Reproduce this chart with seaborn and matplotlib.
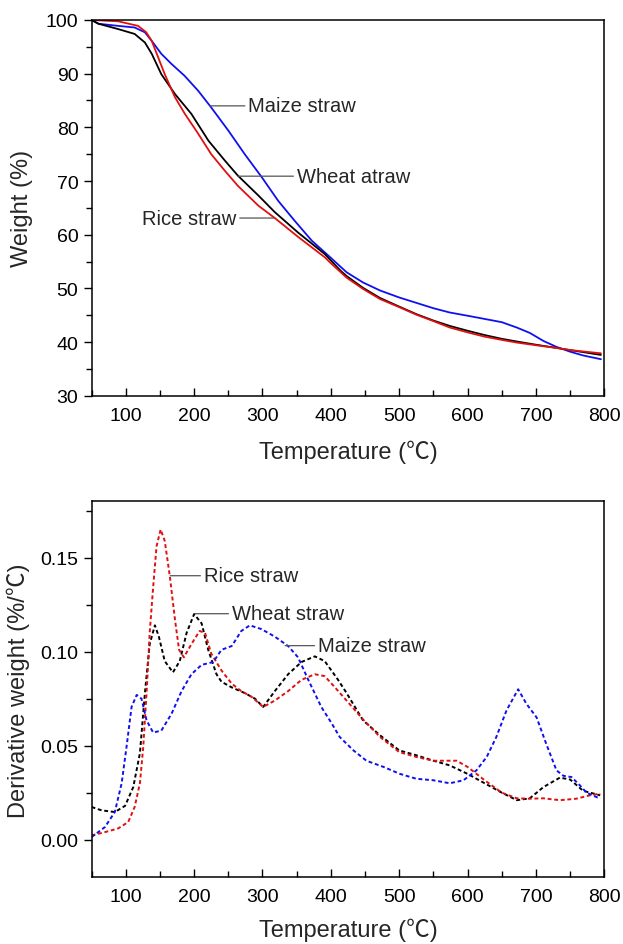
import matplotlib
matplotlib.use('Agg')
import matplotlib.pyplot as plt
import seaborn as sns
from matplotlib.ticker import MultipleLocator

# TG curves (weight %)
tg_wheat_t = [50, 60, 89, 113, 128, 138, 152, 172, 196, 221, 245, 264, 294, 318, 352, 391, 415,
              423, 447, 472, 500, 525, 550, 574, 600, 625, 650, 672, 700, 730, 750, 775, 795]
tg_wheat_w = [100, 99.3, 98.3, 97.4, 95.8, 93.7, 89.9, 86.2, 82.5, 77.5, 73.8, 71.0, 67.3, 64.2, 60.4, 56.4, 53.2,
              52.3, 50.1, 48.2, 46.6, 45.2, 44.0, 43.0, 42.1, 41.3, 40.6, 40.1, 39.5, 38.9, 38.5, 38.0, 37.6]

tg_rice_t = [50, 89, 118, 130, 138, 147.5, 157, 172, 186.5, 206, 225, 245, 264, 294, 318, 352, 391,
             399, 423, 447, 472, 500, 525, 550, 574, 600, 625, 650, 672, 700, 730, 750, 795]
tg_rice_w = [100, 99.75, 98.9, 97.7, 96.1, 93.0, 89.9, 85.6, 82.5, 78.8, 75.0, 71.9, 69.1, 65.4, 63.1, 59.6, 55.8,
             54.8, 52.0, 49.9, 48.0, 46.5, 45.1, 43.9, 42.7, 41.8, 41.0, 40.4, 39.9, 39.4, 38.9, 38.5, 37.9]

tg_maize_t = [50, 60, 89, 113, 128, 138, 152, 167, 186, 206, 225, 250, 274, 299, 323, 347, 372, 399,
              423, 447, 472, 500, 525, 550, 574, 600, 625, 650, 672, 691, 711, 730, 750, 769, 795]
tg_maize_w = [100, 99.3, 98.9, 98.6, 97.7, 96.1, 93.7, 91.8, 89.6, 86.8, 83.7, 79.4, 75.0, 70.7, 66.3, 62.6, 58.9, 55.8,
              53.0, 51.1, 49.6, 48.3, 47.3, 46.3, 45.5, 44.9, 44.3, 43.7, 42.7, 41.7, 40.2, 39.1, 38.2, 37.5, 36.8]

# DTG curves (%/°C)
dtg_rice_t = [50, 69.5, 89, 103.6, 113, 120.7, 125.5, 130.4, 135, 140, 145, 151, 157, 164.5, 172, 178, 185,
              196, 208, 216, 225, 240, 255, 269, 284, 301, 318, 337.5, 357, 376.5, 391, 406, 423, 447, 472,
              500, 525, 550, 574, 584, 600, 613, 625, 650, 672, 691, 711, 735, 759, 779, 794]
dtg_rice_d = [0.0023, 0.004, 0.006, 0.0094, 0.0174, 0.030, 0.049, 0.078, 0.110, 0.134, 0.156, 0.165, 0.159,
              0.140, 0.117, 0.101, 0.097, 0.104, 0.111, 0.110, 0.099, 0.090, 0.083, 0.079, 0.076, 0.0706,
              0.074, 0.079, 0.085, 0.088, 0.087, 0.081, 0.074, 0.064, 0.0546, 0.0466, 0.044, 0.042, 0.042,
              0.042, 0.0387, 0.035, 0.0316, 0.025, 0.022, 0.0218, 0.022, 0.021, 0.0218, 0.0236, 0.0245]

dtg_wheat_t = [50, 64.6, 84, 99, 111, 120.7, 128, 135, 142.6, 148.4, 157, 169, 179, 189, 200, 211, 220.6,
               232.7, 240, 255, 274, 289, 301, 318, 337.5, 357, 376.5, 391, 410.6, 423, 447, 472, 500, 525,
               550, 574, 600, 625, 650, 672, 691, 711, 735, 750, 769, 794]
dtg_wheat_d = [0.0174, 0.0156, 0.0147, 0.018, 0.028, 0.046, 0.078, 0.104, 0.114, 0.108, 0.095, 0.089, 0.095,
               0.110, 0.120, 0.115, 0.101, 0.088, 0.084, 0.081, 0.078, 0.075, 0.0706, 0.079, 0.088, 0.0945,
               0.0975, 0.095, 0.085, 0.078, 0.0635, 0.0555, 0.0475, 0.0449, 0.042, 0.0395, 0.035, 0.030,
               0.025, 0.021, 0.022, 0.028, 0.033, 0.032, 0.026, 0.0236]

dtg_maize_t = [50, 69.5, 84, 94, 101, 108.5, 116, 123, 130.4, 140, 152, 167, 181.6, 196, 211, 228, 240, 255,
               269, 281.5, 298.5, 318, 337.5, 352, 367, 386, 401, 413, 433, 452, 477, 501, 525, 550, 574,
               594, 613, 628, 642, 657, 674, 686, 701, 715, 730, 740, 752, 764, 774, 794]
dtg_maize_d = [0.0014, 0.0067, 0.0147, 0.030, 0.049, 0.0706, 0.077, 0.075, 0.0635, 0.057, 0.058, 0.067,
               0.079, 0.088, 0.093, 0.0945, 0.101, 0.103, 0.111, 0.114, 0.112, 0.108, 0.103, 0.097, 0.085,
               0.0706, 0.062, 0.0546, 0.0475, 0.042, 0.0387, 0.035, 0.0324, 0.0316, 0.030, 0.0316, 0.0369,
               0.044, 0.0546, 0.0688, 0.080, 0.0723, 0.065, 0.051, 0.0369, 0.034, 0.0333, 0.029, 0.025, 0.0218]

sns.set_style('ticks')
plt.rcParams['font.family'] = ['Liberation Sans', 'Noto Sans CJK SC', 'DejaVu Sans']

fig = plt.figure(figsize=(6.23, 9.45), dpi=100)
ax1 = fig.add_axes([0.147, 0.5802, 0.823, 0.3976])
ax2 = fig.add_axes([0.147, 0.0706, 0.823, 0.3979])

lw = 1.3
sns.lineplot(x=tg_maize_t, y=tg_maize_w, ax=ax1, color='#1010ee', lw=lw)
sns.lineplot(x=tg_wheat_t, y=tg_wheat_w, ax=ax1, color='black', lw=lw)
sns.lineplot(x=tg_rice_t, y=tg_rice_w, ax=ax1, color='#e01010', lw=lw)

dash = (0, (2, 1.4))
sns.lineplot(x=dtg_wheat_t, y=dtg_wheat_d, ax=ax2, color='black', lw=1.4, linestyle=dash)
sns.lineplot(x=dtg_rice_t, y=dtg_rice_d, ax=ax2, color='#e01010', lw=1.4, linestyle=dash)
sns.lineplot(x=dtg_maize_t, y=dtg_maize_d, ax=ax2, color='#1010ee', lw=1.4, linestyle=dash)

lead = dict(arrowstyle='-', color='#555555', lw=0.9, shrinkA=0, shrinkB=0)
afs = 14.5
ax1.annotate('Maize straw', xy=(223, 84.0), xytext=(279, 84.0), fontsize=afs,
             ha='left', va='center', arrowprops=lead)
ax1.annotate('Wheat atraw', xy=(264, 70.9), xytext=(350, 70.9), fontsize=afs,
             ha='left', va='center', arrowprops=lead)
ax1.annotate('Rice straw', xy=(318, 63.1), xytext=(262, 63.1), fontsize=afs,
             ha='right', va='center', arrowprops=lead)

ax2.annotate('Rice straw', xy=(165, 0.1404), xytext=(214, 0.1404), fontsize=afs,
             ha='left', va='center', arrowprops=lead)
ax2.annotate('Wheat straw', xy=(201, 0.1202), xytext=(255, 0.1202), fontsize=afs,
             ha='left', va='center', arrowprops=lead)
ax2.annotate('Maize straw', xy=(333, 0.1032), xytext=(381, 0.1032), fontsize=afs,
             ha='left', va='center', arrowprops=lead)

ax1.set_xlim(50, 800)
ax1.set_ylim(30, 100)
ax1.yaxis.set_major_locator(MultipleLocator(10))
ax1.yaxis.set_minor_locator(MultipleLocator(5))
ax2.set_xlim(50, 800)
ax2.set_ylim(-0.02, 0.18)
ax2.yaxis.set_major_locator(MultipleLocator(0.05))
ax2.yaxis.set_minor_locator(MultipleLocator(0.025))
ax2.yaxis.set_major_formatter(matplotlib.ticker.FormatStrFormatter('%.2f'))

for ax in (ax1, ax2):
    ax.xaxis.set_major_locator(MultipleLocator(100))
    ax.xaxis.set_minor_locator(MultipleLocator(50))
    ax.set_xticks([100, 200, 300, 400, 500, 600, 700, 800])
    for s in ax.spines.values():
        s.set_visible(True)
        s.set_color('black')
        s.set_linewidth(1.1)
    ax.tick_params(axis='x', which='both', direction='in', labelsize=14, pad=8, colors='black')
    ax.tick_params(axis='x', which='major', length=6, width=1)
    ax.tick_params(axis='x', which='minor', length=4, width=1)
    ax.tick_params(axis='y', which='both', direction='out', labelsize=14, colors='black')
    ax.tick_params(axis='y', which='major', length=6, width=1)
    ax.tick_params(axis='y', which='minor', length=4, width=1)
    ax.set_xlabel('Temperature (℃)', fontsize=17)
    ax.xaxis.label.set_va('center')

ax1.set_ylabel('Weight (%)', fontsize=17)
ax2.set_ylabel('Derivative weight (%/℃)', fontsize=17)
for ax in (ax1, ax2):
    ax.yaxis.label.set_va('center')
    ax.yaxis.label.set_ha('center')

ax1.xaxis.set_label_coords(0.5, -0.147)
ax1.yaxis.set_label_coords(-0.135, 0.5)
ax2.xaxis.set_label_coords(0.5, -0.138)
ax2.yaxis.set_label_coords(-0.143, 0.5)

fig.savefig('out.png', dpi=100)
